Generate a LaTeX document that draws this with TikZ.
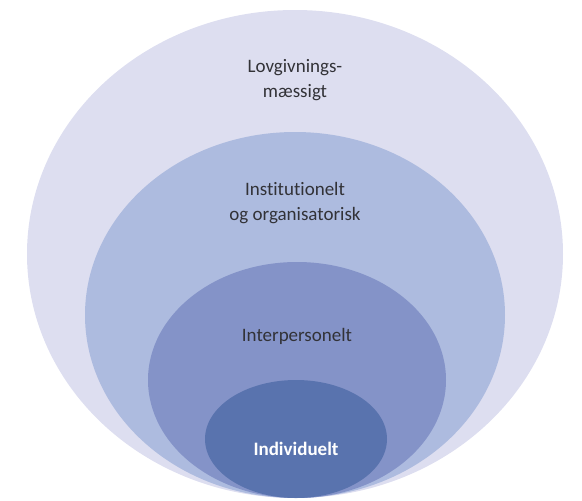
\documentclass[tikz,border=0pt]{standalone}
\usepackage{fontspec}
\setmainfont[Ligatures=NoCommon]{Carlito}
\usetikzlibrary{shapes.geometric,positioning}

\definecolor{lovfill}{RGB}{221,222,240}
\definecolor{instfill}{RGB}{173,187,223}
\definecolor{interfill}{RGB}{132,147,200}
\definecolor{indivfill}{RGB}{89,115,174}
\definecolor{textgray}{RGB}{50,50,55}

\begin{document}
\begin{tikzpicture}[x=1pt,y=-1pt,ring/.style={ellipse,inner sep=0pt,outer sep=0pt},level text/.style={font=\fontsize{19}{25}\selectfont,text=textgray,align=center,inner sep=0pt}]

            \useasboundingbox (0,0) rectangle (582,501);

            \node[ring, fill=lovfill, minimum width=536pt, minimum height=488pt] (lov) at (295,254) {};
            \node[ring, fill=instfill, minimum width=420pt, minimum height=366pt] (inst) at (295,315) {};
            \node[ring, fill=interfill, minimum width=298pt, minimum height=236pt] (inter) at (297,380) {};
            \node[ring, fill=indivfill, minimum width=182pt, minimum height=118pt] (indiv) at (296,439) {};

            \node[level text] (lovtxt)[below=49pt of lov.north] {Lovgivnings-\\mæssigt};
            \node[level text] (insttxt)[below=50pt of inst.north] {Institutionelt\\og organisatorisk};
            \node[level text] (intertxt)[below=66pt of inter.north] {Interpersonelt};
            \node[level text, text=white, font=\bfseries\fontsize{19}{25}\selectfont] (indivtxt)[below=62pt of indiv.north] {Individuelt};
        \end{tikzpicture}
\end{document}
